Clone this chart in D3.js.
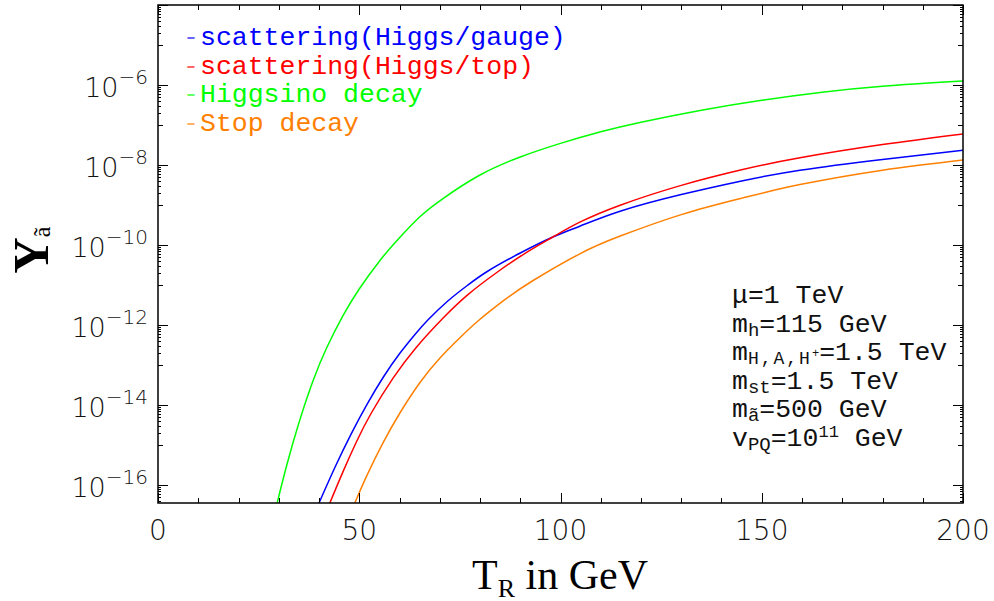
<!DOCTYPE html>
<html><head><meta charset="utf-8">
<script src="https://cdn.jsdelivr.net/npm/d3@7"></script>
<style>body{margin:0;background:#fff}svg{display:block}</style>
</head><body>
<svg id="c" width="994" height="601"></svg>
<script>
// ---- data (log10 of Y vs T_R in GeV) ----
const gaugeT   = [40, 44, 48, 52, 56, 60, 64, 67.1, 72, 77, 82, 90, 98.1, 104.8, 115, 130, 145, 159.5, 180, 200];
const gaugeLog = [-16.45, -15.55, -14.72, -13.97, -13.3, -12.72, -12.22, -11.87, -11.4, -11.0, -10.65, -10.2, -9.8, -9.53, -9.15, -8.74, -8.4, -8.13, -7.86, -7.63];
const topT     = [42.7, 46, 49.4, 53, 58.4, 64, 70.6, 77, 84, 91, 98.1, 104.8, 115, 130, 145, 159.5, 180, 200];
const topLog   = [-16.45, -15.66, -14.9, -14.2, -13.33, -12.58, -11.85, -11.24, -10.7, -10.22, -9.8, -9.43, -9.0, -8.51, -8.12, -7.82, -7.49, -7.225];
const higgsinoT   = [29.6, 32, 35, 38.5, 42, 46, 50, 55.2, 60, 65, 70.8, 80, 90, 100, 110, 120, 135, 150, 165, 180, 200];
const higgsinoLog = [-16.45, -15.5, -14.45, -13.4, -12.55, -11.76, -11.1, -10.38, -9.82, -9.3, -8.84, -8.25, -7.8, -7.46, -7.17, -6.93, -6.63, -6.38, -6.18, -6.03, -5.9];
const stopT    = [48.9, 52, 56, 60.1, 65, 70, 75, 79.5, 86, 93, 104.8, 115, 130, 145, 159.5, 180, 200];
const stopLog  = [-16.45, -15.74, -14.93, -14.2, -13.45, -12.83, -12.32, -11.9, -11.38, -10.9, -10.22, -9.77, -9.24, -8.83, -8.49, -8.13, -7.875];

const legendLabels = ["scattering(Higgs/gauge)", "scattering(Higgs/top)", "Higgsino decay", "Stop decay"];
const seriesColors = ["#0000ff", "#ff0000", "#00ff00", "#ff8000"];
const xTickVals = [0, 50, 100, 150, 200];
const yTickExps = [-6, -8, -10, -12, -14, -16];

const series = [
  {t: gaugeT, l: gaugeLog},
  {t: topT, l: topLog},
  {t: higgsinoT, l: higgsinoLog},
  {t: stopT, l: stopLog}
];

// ---- layout ----
const L = 158, R = 963, T = 5, B = 503;
const svg = d3.select("#c");
const x = d3.scaleLinear().domain([0, 200]).range([L, R]);
const y = d3.scaleLog().domain([Math.pow(10, -16.45), 1e-4]).range([B, T]);

svg.append("clipPath").attr("id", "clip").append("rect")
  .attr("x", L).attr("y", T).attr("width", R - L).attr("height", B - T);

// curves
const line = d3.line().x(d => x(d[0])).y(d => y(Math.pow(10, d[1]))).curve(d3.curveNatural);
series.forEach((s, i) => {
  svg.append("path")
    .attr("clip-path", "url(#clip)")
    .attr("d", line(s.t.map((t, j) => [t, s.l[j]])))
    .attr("fill", "none").attr("stroke", seriesColors[i]).attr("stroke-width", 1.5);
});

// ticks
const tk = svg.append("g").attr("stroke", "#000").attr("stroke-width", 1);
for (let v = 0; v <= 200; v += 10) {
  const len = v % 50 === 0 ? 10 : 5;
  const px = Math.round(x(v)) + 0.5;
  tk.append("line").attr("x1", px).attr("x2", px).attr("y1", B).attr("y2", B - len);
  tk.append("line").attr("x1", px).attr("x2", px).attr("y1", T).attr("y2", T + len);
}
for (let e = -16; e <= -4; e += 2) {
  const major = Math.pow(10, e);
  const ticks = [[major, 10]];
  for (let k = 1; k <= 9; k++) ticks.push([k * Math.pow(10, e - 1), k === 1 ? 5 : 3]);
  ticks.forEach(([v, len]) => {
    const py = y(v);
    if (py < T - 0.5 || py > B + 0.5) return;
    const p = Math.round(py) + 0.5;
    tk.append("line").attr("x1", L).attr("x2", L + len).attr("y1", p).attr("y2", p);
    tk.append("line").attr("x1", R).attr("x2", R - len).attr("y1", p).attr("y2", p);
  });
}

// frame
svg.append("rect").attr("x", L).attr("y", T).attr("width", R - L).attr("height", B - T)
  .attr("fill", "none").attr("stroke", "#000").attr("stroke-width", 1.5);

// x tick labels
const tickFont = "'DejaVu Sans', 'Liberation Sans', sans-serif";
xTickVals.forEach(v => {
  svg.append("text").attr("x", x(v)).attr("y", 540).attr("text-anchor", "middle")
    .attr("font-family", tickFont).attr("font-weight", 200).attr("font-size", 28).attr("fill", "#111").text(v);
});
// y tick labels
yTickExps.forEach(e => {
  const t = svg.append("text").attr("x", 148).attr("y", y(Math.pow(10, e)) + 12)
    .attr("text-anchor", "end").attr("font-family", tickFont).attr("font-weight", 200)
    .attr("font-size", 27).attr("fill", "#111");
  t.append("tspan").text("10");
  t.append("tspan").attr("dy", -13).attr("font-size", 20).text("\u2212" + (-e));
});

// axis titles
const serif = "'Liberation Serif', 'Times New Roman', serif";
const xt = svg.append("text").attr("x", 560).attr("y", 589).attr("text-anchor", "middle")
  .attr("font-family", serif).attr("font-size", 42);
xt.append("tspan").text("T");
xt.append("tspan").attr("font-size", 26).attr("dy", 8).text("R");
xt.append("tspan").attr("dy", -8).text(" in GeV");

const yt = svg.append("text").attr("transform", "translate(48,250) rotate(-90)").attr("text-anchor", "middle")
  .attr("font-family", serif).attr("font-size", 50).attr("font-weight", "bold");
yt.append("tspan").text("Y");
yt.append("tspan").attr("font-size", 24).attr("font-weight", "normal").attr("dy", 2).text("\u00e3");

// legend
const mono = "'Liberation Mono', 'Courier New', monospace";
legendLabels.forEach((lab, i) => {
  const yy = 45 + i * 28.5;
  svg.append("text").attr("x", 183).attr("y", yy)
    .attr("font-family", mono).attr("font-size", 26.5).attr("fill", seriesColors[i]).attr("fill-opacity", 0.6).text("-");
  svg.append("text").attr("x", 200).attr("y", yy)
    .attr("font-family", mono).attr("font-size", 26.5).attr("fill", seriesColors[i]).text(lab);
});

// annotation
const ann = svg.append("g").attr("font-family", mono).attr("font-size", 26.5).attr("fill", "#111");
const ax = 732, ay0 = 303, dy = 28.6;
function annLine(i, parts) {
  const t = ann.append("text").attr("x", ax).attr("y", ay0 + i * dy);
  parts.forEach(p => {
    const s = t.append("tspan").text(p.s);
    if (p.fs) s.attr("font-size", p.fs);
    if (p.dy !== undefined) s.attr("dy", p.dy);
    if (p.ls) s.attr("letter-spacing", p.ls);
  });
}
annLine(0, [{s: "\u03bc"}, {s: "=1 TeV"}]);
annLine(1, [{s: "m"}, {s: "h", fs: 19, dy: 4}, {s: "=115 GeV", dy: -4}]);
annLine(2, [{s: "m"}, {s: "H,A,H", fs: 18, dy: 4, ls: 2}, {s: "+", fs: 12, dy: -7}, {s: "=1.5 TeV", dy: 3}]);
annLine(3, [{s: "m"}, {s: "st", fs: 19, dy: 4}, {s: "=1.5 TeV", dy: -4}]);
annLine(4, [{s: "m"}, {s: "\u00e3", fs: 19, dy: 4}, {s: "=500 GeV", dy: -4}]);
annLine(5, [{s: "v"}, {s: "PQ", fs: 19, dy: 4}, {s: "=10", dy: -4}, {s: "11", fs: 17, dy: -9}, {s: " GeV", dy: 9}]);
</script>
</body></html>
